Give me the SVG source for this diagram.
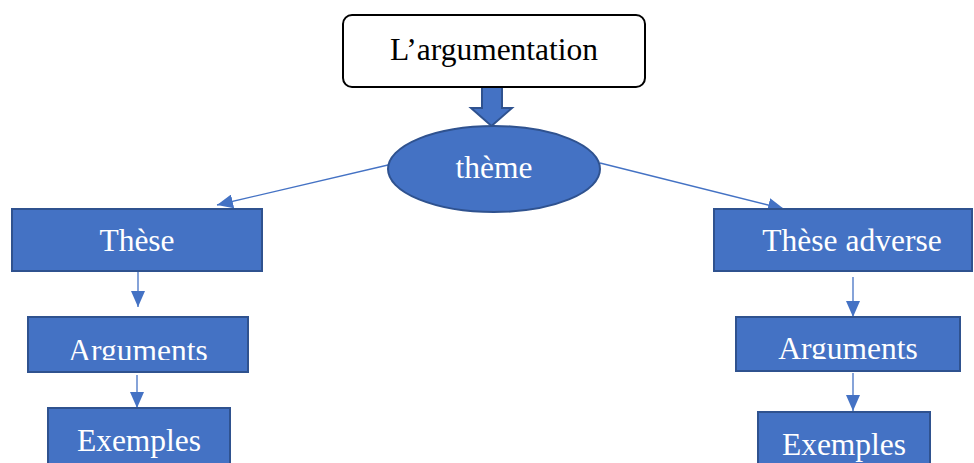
<svg xmlns="http://www.w3.org/2000/svg" width="974" height="463" viewBox="0 0 974 463">
<style>
.box{fill:#4472C4;stroke:#2F528F;stroke-width:2}
.lbl{font-family:"Liberation Serif","Times New Roman",serif;font-size:31.5px;text-anchor:middle}
.w{fill:#FFFFFF}
.con{stroke:#4472C4;stroke-width:1.3;fill:none}
</style>
<defs>
<marker id="ah" viewBox="0 0 16 14" refX="16" refY="7" markerWidth="16" markerHeight="14" markerUnits="userSpaceOnUse" orient="auto">
<path d="M0,0 L16,7 L0,14 Z" fill="#4472C4"/>
</marker>
<clipPath id="cl1"><rect x="28" y="317" width="220" height="43"/></clipPath>
<clipPath id="cl2"><rect x="736" y="317" width="224" height="42"/></clipPath>
</defs>
<rect width="974" height="463" fill="#FFFFFF"/>
<g id="connectors">
<line class="con" x1="388" y1="165" x2="217" y2="205" marker-end="url(#ah)"/>
<line class="con" x1="600" y1="163" x2="784" y2="209" marker-end="url(#ah)"/>
<line class="con" x1="138" y1="272" x2="138" y2="307" marker-end="url(#ah)"/>
<line class="con" x1="137" y1="375" x2="137" y2="408" marker-end="url(#ah)"/>
<line class="con" x1="853" y1="277" x2="853" y2="317" marker-end="url(#ah)"/>
<line class="con" x1="853" y1="373" x2="853" y2="411" marker-end="url(#ah)"/>
<path d="M482,83 L502,83 L502,108 L512,108 L491.5,126 L471,108 L482,108 Z" fill="#4472C4" stroke="#2F528F" stroke-width="2"/>
</g>
<g id="argumentation">
<rect x="343" y="15" width="302" height="72" rx="9" fill="#FFFFFF" stroke="#000000" stroke-width="2"/>
<text class="lbl" x="494" y="60" fill="#000000">L’argumentation</text>
</g>
<g id="theme">
<ellipse class="box" cx="494" cy="169" rx="106" ry="43"/>
<text class="lbl w" x="494" y="178">thème</text>
</g>
<g id="these">
<rect class="box" x="12" y="209" width="250" height="62"/>
<text class="lbl w" x="137" y="251">Thèse</text>
</g>
<g id="arguments1">
<rect class="box" x="28" y="317" width="220" height="55"/>
<text class="lbl w" x="138" y="361" clip-path="url(#cl1)">Arguments</text>
</g>
<g id="exemples1">
<rect class="box" x="48" y="408" width="182" height="62"/>
<text class="lbl w" x="139" y="451">Exemples</text>
</g>
<g id="these-adverse">
<rect class="box" x="714" y="209" width="258" height="62"/>
<text class="lbl w" x="852" y="251">Thèse adverse</text>
</g>
<g id="arguments2">
<rect class="box" x="736" y="317" width="224" height="54"/>
<text class="lbl w" x="848" y="359" clip-path="url(#cl2)">Arguments</text>
</g>
<g id="exemples2">
<rect class="box" x="758" y="412" width="172" height="60"/>
<text class="lbl w" x="844" y="455">Exemples</text>
</g>
</svg>
